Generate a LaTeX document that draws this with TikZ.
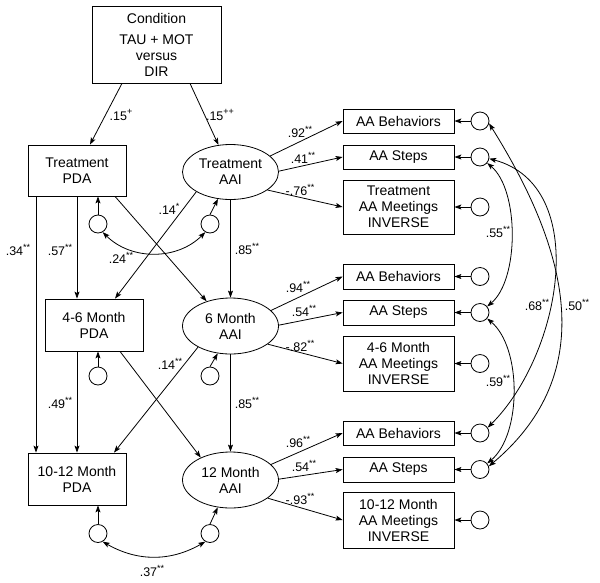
\documentclass[tikz,border=0pt]{standalone}
\usepackage{fontspec}
\setmainfont{Liberation Sans}
\usetikzlibrary{arrows.meta,shapes.geometric,calc}
\newcommand{\sgn}[1]{\raisebox{0.42em}{\fontsize{9}{9}\selectfont #1}}
\begin{document}
\begin{tikzpicture}[x=1pt,y=1pt,line width=0.8pt,
  >={Stealth[length=7pt,width=5pt,inset=1.5pt]},
  box/.style={draw, rectangle, inner sep=0pt, align=center, font=\fontsize{14}{16}\selectfont},
  lat/.style={draw, ellipse, inner sep=0pt, minimum width=96pt, minimum height=55pt, align=center, font=\fontsize{14}{16}\selectfont},
  err/.style={draw, circle, inner sep=0pt, minimum size=18pt},
  lab/.style={font=\fontsize{12.5}{14}\selectfont, inner sep=0pt},
  rbox/.style={box, minimum width=111pt},
]
\useasboundingbox (0,0) rectangle (600,-582);

% main nodes
\node[box, minimum width=129pt, minimum height=77pt] (cond) at (156.5,-44.5) {Condition\\[5pt]TAU + MOT\\versus\\DIR};
\node[box, minimum width=98pt, minimum height=51pt] (tpda) at (77,-170.5) {Treatment\\PDA};
\node[box, minimum width=98pt, minimum height=52pt] (pda46) at (94,-325) {4-6 Month\\PDA};
\node[box, minimum width=98pt, minimum height=52pt] (pda1012) at (77,-479) {10-12 Month\\PDA};
\node[lat] (taai) at (230.5,-172) {Treatment\\AAI};
\node[lat, minimum height=56pt] (aai6) at (230.5,-326) {6 Month\\AAI};
\node[lat, minimum height=56pt] (aai12) at (230.5,-480) {12 Month\\AAI};

% indicator boxes
\node[rbox, minimum height=24pt] (b1) at (398.5,-121) {AA Behaviors};
\node[rbox, minimum height=24pt] (s1) at (398.5,-157) {AA Steps};
\node[rbox, minimum height=54pt] (m1) at (398.5,-207) {Treatment\\AA Meetings\\INVERSE};
\node[rbox, minimum height=25pt] (b2) at (398.5,-276.5) {AA Behaviors};
\node[rbox, minimum height=25pt] (s2) at (398.5,-312.5) {AA Steps};
\node[rbox, minimum height=55pt] (m2) at (398.5,-363.5) {4-6 Month\\AA Meetings\\INVERSE};
\node[rbox, minimum height=24pt] (b3) at (398.5,-433) {AA Behaviors};
\node[rbox, minimum height=25pt] (s3) at (398.5,-469.5) {AA Steps};
\node[rbox, minimum height=56pt] (m3) at (398.5,-520) {10-12 Month\\AA Meetings\\INVERSE};

% right error terms
\node[err] (eb1) at (480,-121) {};
\node[err] (es1) at (480,-157) {};
\node[err] (em1) at (480,-207) {};
\node[err] (eb2) at (480,-276.5) {};
\node[err] (es2) at (480,-312.5) {};
\node[err] (em2) at (480,-363.5) {};
\node[err] (eb3) at (480,-433) {};
\node[err] (es3) at (480,-469.5) {};
\node[err] (em3) at (480,-520) {};
\foreach \e/\t in {eb1/b1,es1/s1,em1/m1,eb2/b2,es2/s2,em2/m2,eb3/b3,es3/s3,em3/m3}
  \draw[->] (\e.west) -- (\t.east);

% left error terms
\node[err] (ep1) at (98,-224) {};
\node[err] (ea1) at (210,-224) {};
\node[err] (ep2) at (98,-376) {};
\node[err] (ea2) at (210,-376) {};
\node[err] (ep3) at (98,-533.5) {};
\node[err] (ea3) at (210,-533.5) {};
\draw[->] (ep1.north) -- ([xshift=21pt]tpda.south);
\draw[->] (ea1.north) -- (taai.245);
\draw[->] (ep2.north) -- ([xshift=4pt]pda46.south);
\draw[->] (ea2.north) -- (aai6.245);
\draw[->] (ep3.north) -- ([xshift=21pt]pda1012.south);
\draw[->] (ea3.north) -- (aai12.245);
\draw[<->] (ep1.-60) to[bend right=45] (ea1.-120);
\draw[<->] (ep3.-60) to[bend right=30] (ea3.-120);

% structural paths
\draw[->] ([xshift=-34.5pt]cond.south) -- ([xshift=13pt]tpda.north);
\draw[->] ([xshift=33.5pt]cond.south) -- (taai.114);
\draw[->] (tpda.south) -- ([xshift=-17pt]pda46.north);
\draw[->] ([xshift=-41pt]tpda.south) -- ([xshift=-41pt]pda1012.north);
\draw[->] ([xshift=-17pt]pda46.south) -- (pda1012.north);
\draw[->] ([xshift=38pt]tpda.south) -- (aai6.134);
\draw[->] (taai.210) -- ([xshift=21pt]pda46.north);
\draw[->] (taai.south) -- (aai6.north);
\draw[->] ([xshift=26pt]pda46.south) -- (aai12.143);
\draw[->] (aai6.213) -- ([xshift=37pt]pda1012.north);
\draw[->] (aai6.south) -- (aai12.north);

% loadings
\draw[->] (taai.22) -- (b1.west);
\draw[->] (taai.1) -- (s1.west);
\draw[->] (taai.-26) -- (m1.west);
\draw[->] (aai6.21) -- (b2.west);
\draw[->] (aai6.1) -- (s2.west);
\draw[->] (aai6.-26) -- (m2.west);
\draw[->] (aai12.21) -- (b3.west);
\draw[->] (aai12.1) -- (s3.west);
\draw[->] (aai12.-26) -- (m3.west);

% correlated residuals on the right
\draw[<->] (es1.-40) to[out=-40,in=40,looseness=0.75] (es2.40);
\draw[<->] (es2.-40) to[out=-40,in=40,looseness=0.8] (es3.40);
\draw[<->] (es1.-10) to[out=-15,in=45] (eb3.35);
\draw[<->] (eb1.-15) to[out=-58,in=40,looseness=1.1] (es3.20);

% labels
\node[lab] (l1) at (121,-115) {.15\sgn{+}};
\node[lab] (l2) at (220,-115) {.15\sgn{++}};
\node[lab] (l3) at (60,-250) {.57\sgn{**}};
\node[lab] (l4) at (18,-250) {.34\sgn{**}};
\node[lab] (l5) at (60,-403) {.49\sgn{**}};
\node[lab] (l6) at (169,-209) {.14\sgn{*}};
\node[lab] (l7) at (247,-249) {.85\sgn{**}};
\node[lab] (l8) at (247,-403) {.85\sgn{**}};
\node[lab] (l9) at (170,-364) {.14\sgn{**}};
\node[lab] (l10) at (121,-258) {.24\sgn{**}};
\node[lab] (l11) at (152,-571) {.37\sgn{**}};
\node[lab] (l12) at (300,-132) {.92\sgn{**}};
\node[lab] (l13) at (303,-158) {.41\sgn{**}};
\node[lab] (l14) at (300,-190) {-.76\sgn{**}};
\node[lab] (l15) at (298,-287) {.94\sgn{**}};
\node[lab] (l16) at (304,-311) {.54\sgn{**}};
\node[lab] (l17) at (300,-346) {-.82\sgn{**}};
\node[lab] (l18) at (298,-442) {.96\sgn{**}};
\node[lab] (l19) at (304,-466) {.54\sgn{**}};
\node[lab] (l20) at (300,-499) {-.93\sgn{**}};
\node[lab] (l21) at (498,-232) {.55\sgn{**}};
\node[lab] (l22) at (498,-381) {.59\sgn{**}};
\node[lab] (l23) at (537,-305) {.68\sgn{**}};
\node[lab] (l24) at (577,-305) {.50\sgn{**}};
\end{tikzpicture}
\end{document}
